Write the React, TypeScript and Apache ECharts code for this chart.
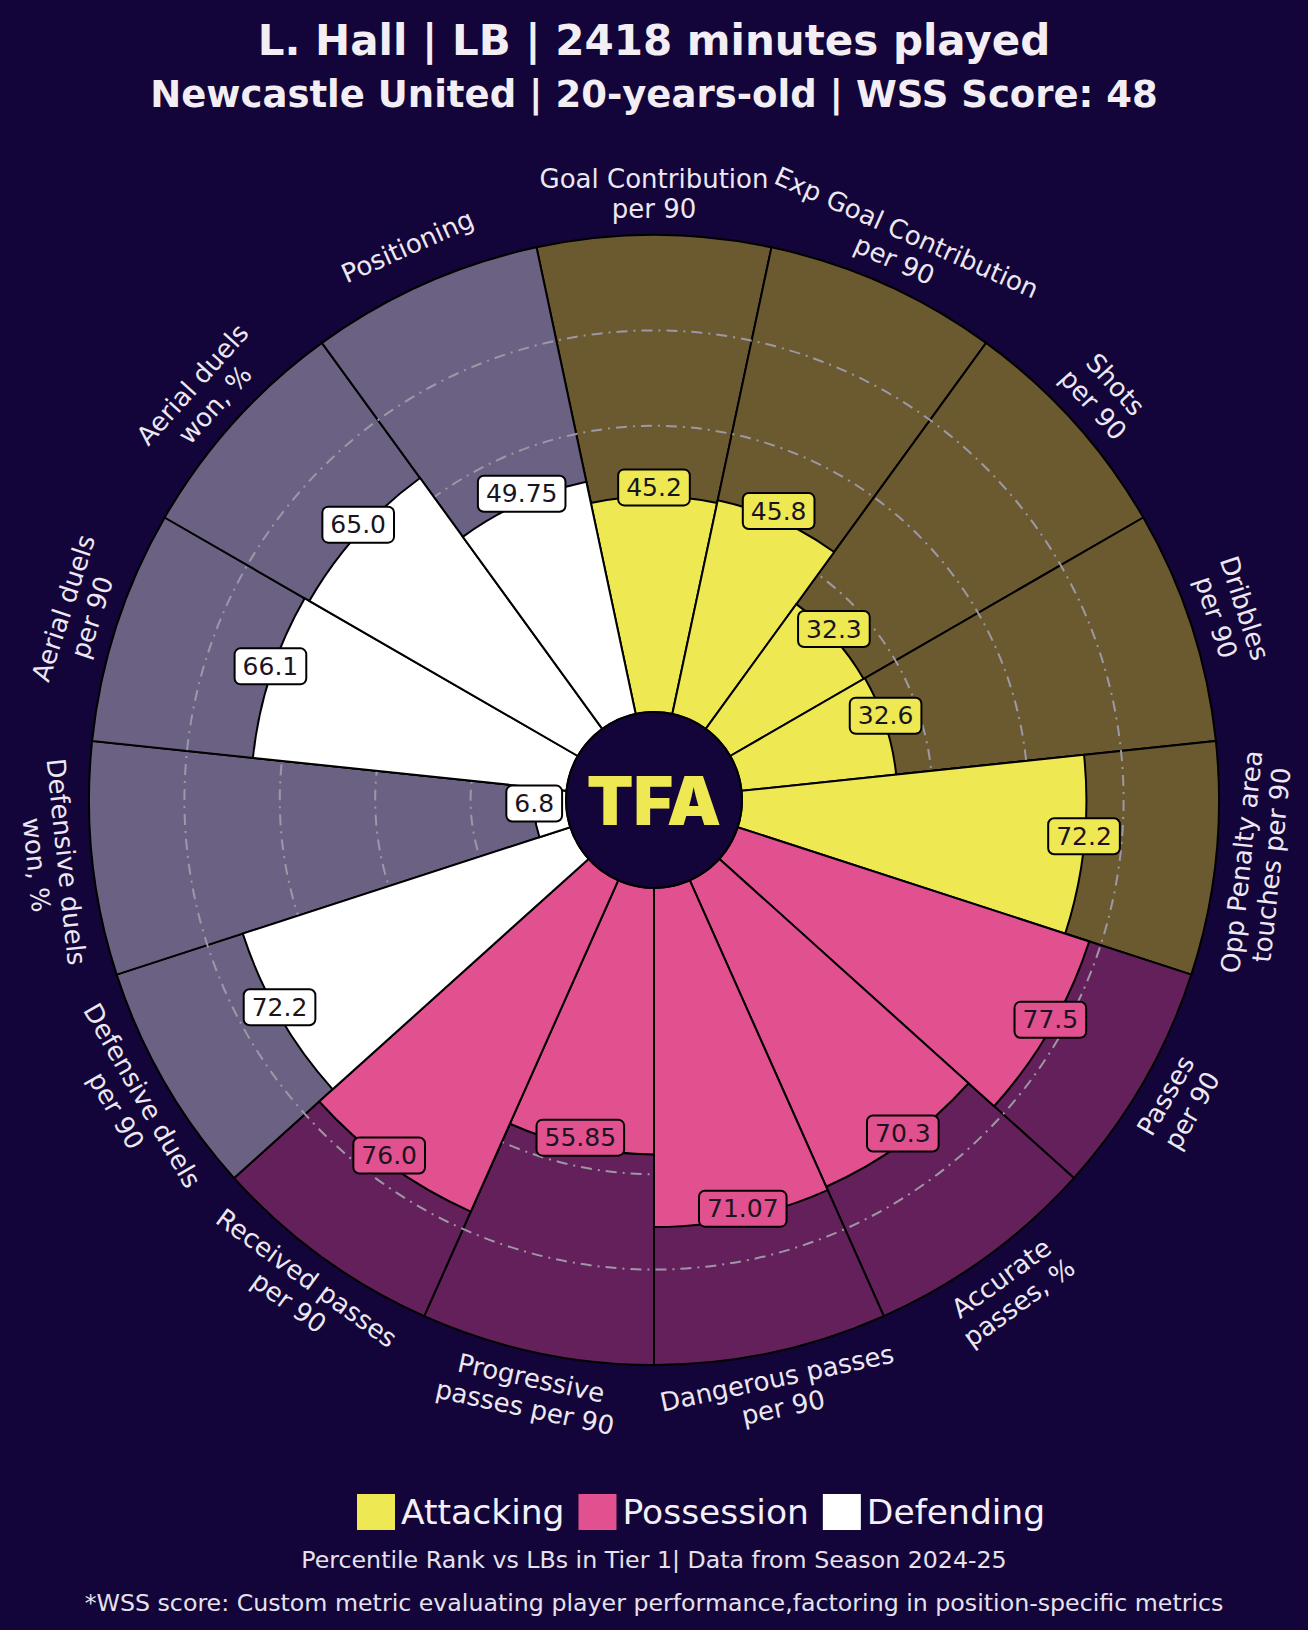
import React, { useEffect, useRef } from "react";
import * as echarts from "echarts";

const categories: string[] = [
  "Goal Contribution\nper 90",
  "Exp Goal Contribution\nper 90",
  "Shots\nper 90",
  "Dribbles\nper 90",
  "Opp Penalty area\ntouches per 90",
  "Passes\nper 90",
  "Accurate\npasses, %",
  "Dangerous passes\nper 90",
  "Progressive\npasses per 90",
  "Received passes\nper 90",
  "Defensive duels\nper 90",
  "Defensive duels\nwon, %",
  "Aerial duels\nper 90",
  "Aerial duels\nwon, %",
  "Positioning",
];

const groupOf: string[] = [
  "Attacking", "Attacking", "Attacking", "Attacking", "Attacking",
  "Possession", "Possession", "Possession", "Possession", "Possession",
  "Defending", "Defending", "Defending", "Defending", "Defending",
];

const values: number[] = [45.2, 45.8, 32.3, 32.6, 72.2, 77.5, 70.3, 71.07, 55.85, 76.0, 72.2, 6.8, 66.1, 65.0, 49.75];

const groups: string[] = ["Attacking", "Possession", "Defending"];
const groupColors: Record<string, string> = { Attacking: "#EEE852", Possession: "#E1508F", Defending: "#FFFFFF" };
const groupBgColors: Record<string, string> = { Attacking: "#6B5A30", Possession: "#63205A", Defending: "#6B6283" };

const BG = "#130539";
const FONT = '"DejaVu Sans", sans-serif';
const CX = 654;
const CY = 800;
const R0 = 88;
const R = 565;
const RL = 606;

const fmt = (v: number) => (String(v).includes(".") ? String(v) : v.toFixed(1));

export default function App() {
  const ref = useRef<HTMLDivElement>(null);
  useEffect(() => {
    document.body.style.margin = "0";
    document.body.style.background = BG;
    const chart = echarts.init(ref.current!, null, { renderer: "svg" });
    const n = categories.length;
    const step = 360 / n;

    const labelTexts = categories.map((c, i) => {
      const th = i * step;
      const rad = (th * Math.PI) / 180;
      let rot = th;
      if (th > 90 && th < 270) rot = th - 180;
      else if (th >= 270) rot = th - 360;
      return {
        type: "text",
        z: 10,
        x: CX + RL * Math.sin(rad),
        y: CY - RL * Math.cos(rad),
        rotation: (-rot * Math.PI) / 180,
        style: {
          text: c,
          fill: "#ECE7F1",
          font: `400 26px ${FONT}`,
          align: "center",
          verticalAlign: "middle",
          lineHeight: 30,
        },
      };
    });

    const fgSeries = groups.map((g) => ({
      name: g,
      type: "bar",
      coordinateSystem: "polar",
      z: 3,
      barGap: "-100%",
      barCategoryGap: "0%",
      itemStyle: { color: groupColors[g], borderColor: "#000000", borderWidth: 2 },
      data: values.map((v, i) => (groupOf[i] === g ? v : "-")),
    }));

    chart.setOption({
      animation: false,
      backgroundColor: BG,
      polar: { center: [CX, CY], radius: [R0, R] },
      angleAxis: {
        type: "category",
        data: categories,
        startAngle: 90 + step / 2,
        clockwise: true,
        axisLine: { show: false },
        axisTick: { show: false },
        axisLabel: { show: false },
        splitLine: { show: false },
      },
      radiusAxis: {
        type: "value",
        min: 0,
        max: 100,
        interval: 20,
        z: 2,
        axisLine: { show: false },
        axisTick: { show: false },
        axisLabel: { show: false },
        splitLine: {
          show: true,
          lineStyle: {
            color: ["rgba(0,0,0,0)", "#9C98A6", "#9C98A6", "#9C98A6", "#9C98A6", "rgba(0,0,0,0)"],
            width: 2,
            type: [11, 6, 2, 6],
          },
        },
      },
      legend: {
        data: groups,
        left: 352,
        top: 1489,
        icon: "rect",
        itemWidth: 38,
        itemHeight: 36,
        itemGap: 14,
        selectedMode: false,
        itemStyle: { borderWidth: 0 },
        textStyle: { color: "#F4F0F8", fontSize: 34.5, fontFamily: "DejaVu Sans", padding: [0, 0, 0, 1] },
      },
      series: [
        {
          name: "bg",
          type: "bar",
          coordinateSystem: "polar",
          z: 1,
          barGap: "-100%",
          barCategoryGap: "0%",
          data: values.map((_, i) => ({
            value: 100,
            itemStyle: { color: groupBgColors[groupOf[i]], borderColor: "#000000", borderWidth: 2 },
          })),
        },
        ...fgSeries,
        {
          name: "labels",
          type: "scatter",
          coordinateSystem: "polar",
          z: 6,
          symbol: "circle",
          symbolSize: 1,
          itemStyle: { color: "rgba(0,0,0,0)", opacity: 1 },
          data: values.map((v, i) => ({
            value: [v, i],
            label: {
              show: true,
              position: "inside",
              offset: [0, -9],
              formatter: fmt(v),
              color: "#1A1420",
              opacity: 1,
              fontSize: 25,
              fontFamily: "DejaVu Sans",
              backgroundColor: groupColors[groupOf[i]],
              borderColor: "#000000",
              borderWidth: 2,
              borderRadius: 5,
              padding: [5, 7, 4, 7],
            },
          })),
        },
      ],
      graphic: [
        {
          type: "circle",
          z: 10,
          shape: { cx: CX, cy: CY, r: R0 },
          style: { fill: BG, stroke: "#000000", lineWidth: 2 },
        },
        {
          type: "text",
          z: 11,
          x: CX,
          y: CY,
          style: {
            text: "TFA",
            fill: "#EEE852",
            font: '900 68px "Inter", sans-serif',
            align: "center",
            verticalAlign: "middle",
          },
        },
        {
          type: "text",
          z: 10,
          x: CX,
          y: 40,
          style: {
            text: "L. Hall | LB | 2418 minutes played",
            fill: "#F2EEF4",
            font: `700 42px ${FONT}`,
            align: "center",
            verticalAlign: "middle",
          },
        },
        {
          type: "text",
          z: 10,
          x: CX,
          y: 94,
          style: {
            text: "Newcastle United | 20-years-old | WSS Score: 48",
            fill: "#F2EEF4",
            font: `700 37px ${FONT}`,
            align: "center",
            verticalAlign: "middle",
          },
        },
        {
          type: "text",
          z: 10,
          x: CX,
          y: 1560,
          style: {
            text: "Percentile Rank vs LBs in Tier 1| Data from Season 2024-25",
            fill: "#E6E1EC",
            font: `400 23.7px ${FONT}`,
            align: "center",
            verticalAlign: "middle",
          },
        },
        {
          type: "text",
          z: 10,
          x: CX,
          y: 1603,
          style: {
            text: "*WSS score: Custom metric evaluating player performance,factoring in position-specific metrics",
            fill: "#E6E1EC",
            font: `400 23.7px ${FONT}`,
            align: "center",
            verticalAlign: "middle",
          },
        },
        ...labelTexts,
      ],
    });
    return () => chart.dispose();
  }, []);
  return <div ref={ref} style={{ width: 1308, height: 1630 }} />;
}
